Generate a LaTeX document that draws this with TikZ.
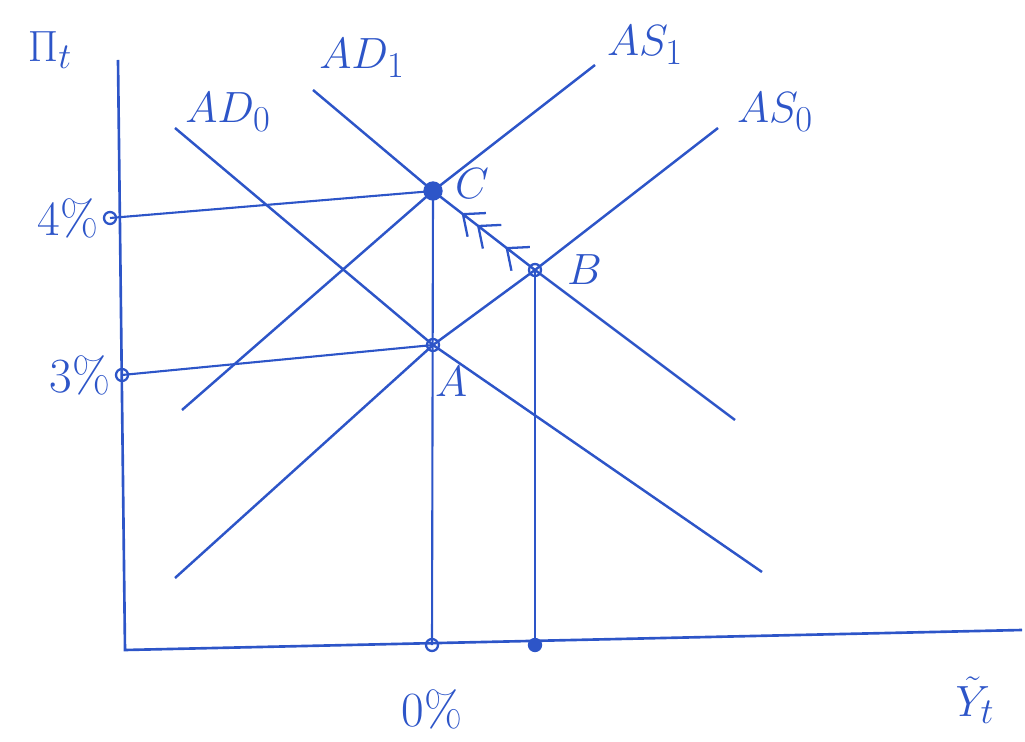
\documentclass[tikz,border=0pt]{standalone}
\usepackage{amsmath,amssymb}
\usepackage{xcolor}
\usepackage{tikz}
\usetikzlibrary{positioning, arrows.meta, calc}

\definecolor{penblue}{RGB}{45,85,200}

\begin{document}
\begin{tikzpicture}[
    x=0.2mm, y=-0.2mm,
    font=\fontsize{28}{32}\selectfont,
    axis/.style={draw=penblue, line width=1.5pt},
    curve/.style={draw=penblue, line width=1.4pt},
    guide/.style={draw=penblue, line width=1.2pt},
    dot/.style={
        circle, draw=penblue, line width=1.3pt,
        inner sep=0pt, minimum size=2.4mm
    },
    bigdot/.style={dot, fill=penblue, minimum size=3.4mm},
    lbl/.style={text=penblue, inner sep=1pt},
    flow/.style={draw=penblue, line width=1.3pt, -{Straight Barb[length=3.5mm, width=6mm]}},
]

\useasboundingbox (0,0) rectangle (1025,742);

% ---------- Axes ----------
\coordinate (origin) at (125,650);
\coordinate (ytop) at (118,60);
\coordinate (xend) at (1022,630);
\draw[axis] (ytop) -- (origin) -- (xend);

\node[lbl, font=\fontsize{30}{34}\selectfont] (pilbl) at (50,50) {$\Pi_t$};
\node[lbl] (ylbl) at (975,700) {$\tilde{Y}_t$};

% ---------- Equilibria ----------
\coordinate (A) at (433,345);
\coordinate (B) at (535,270);
\coordinate (C) at (433,191);
\coordinate (p4) at (110,218);
\coordinate (p3) at (122,375);
\coordinate (footA) at (432,645);
\coordinate (footB) at (535,645);

% ---------- AD / AS curves ----------
\coordinate (ad0s) at (175,128);
\coordinate (ad0e) at (762,572);
\coordinate (ad1s) at (313,90);
\coordinate (ad1e) at (735,420);
\coordinate (as0s) at (175,578);
\coordinate (as0e) at (718,128);
\coordinate (as1s) at (182,410);
\coordinate (as1e) at (595,65);

\draw[curve] (ad0s) -- (A) -- (ad0e);
\draw[curve] (ad1s) -- (C) -- (B) -- (ad1e);
\draw[curve] (as0s) -- (A) -- (B) -- (as0e);
\draw[curve] (as1s) -- (C) -- (as1e);

\node[lbl] (ad0lbl) at (228,112) {$AD_0$};
\node[lbl] (ad1lbl) at (362,58) {$AD_1$};
\node[lbl] (as1lbl) at (645,45) {$AS_1$};
\node[lbl] (as0lbl) at (775,112) {$AS_0$};

% ---------- Guide lines ----------
\draw[guide] (p4) -- (C);
\draw[guide] (p3) -- (A);
\draw[guide] (C) -- (footA);
\draw[guide] (B) -- (footB);

% ---------- Points ----------
\node[bigdot] (dotC) at (C) {};
\node[dot] (dotA) at (A) {};
\node[dot] (dotB) at (B) {};
\node[dot] (dot4) at (p4) {};
\node[dot] (dot3) at (p3) {};
\node[dot] (dot0) at (footA) {};
\node[dot, fill=penblue] (dotfB) at (footB) {};

\node[lbl, above right=-2mm and 4mm of C] (clbl) {$C$};
\node[lbl, right=6mm of B] (blbl) {$B$};
\node[lbl, below right=4mm and 0mm of A] (albl) {$A$};

\node[lbl, left=0.5mm of dot4] (lbl4) {4\%};
\node[lbl, left=0.5mm of dot3] (lbl3) {3\%};
\node[lbl, below=7mm of dot0] (lbl0) {0\%};

% ---------- Movement B -> C ----------
\draw[flow] ($(B)!0.24!(C)$) -- ($(B)!0.29!(C)$);
\draw[flow] ($(B)!0.52!(C)$) -- ($(B)!0.57!(C)$);
\draw[flow] ($(B)!0.67!(C)$) -- ($(B)!0.72!(C)$);

\end{tikzpicture}
\end{document}
